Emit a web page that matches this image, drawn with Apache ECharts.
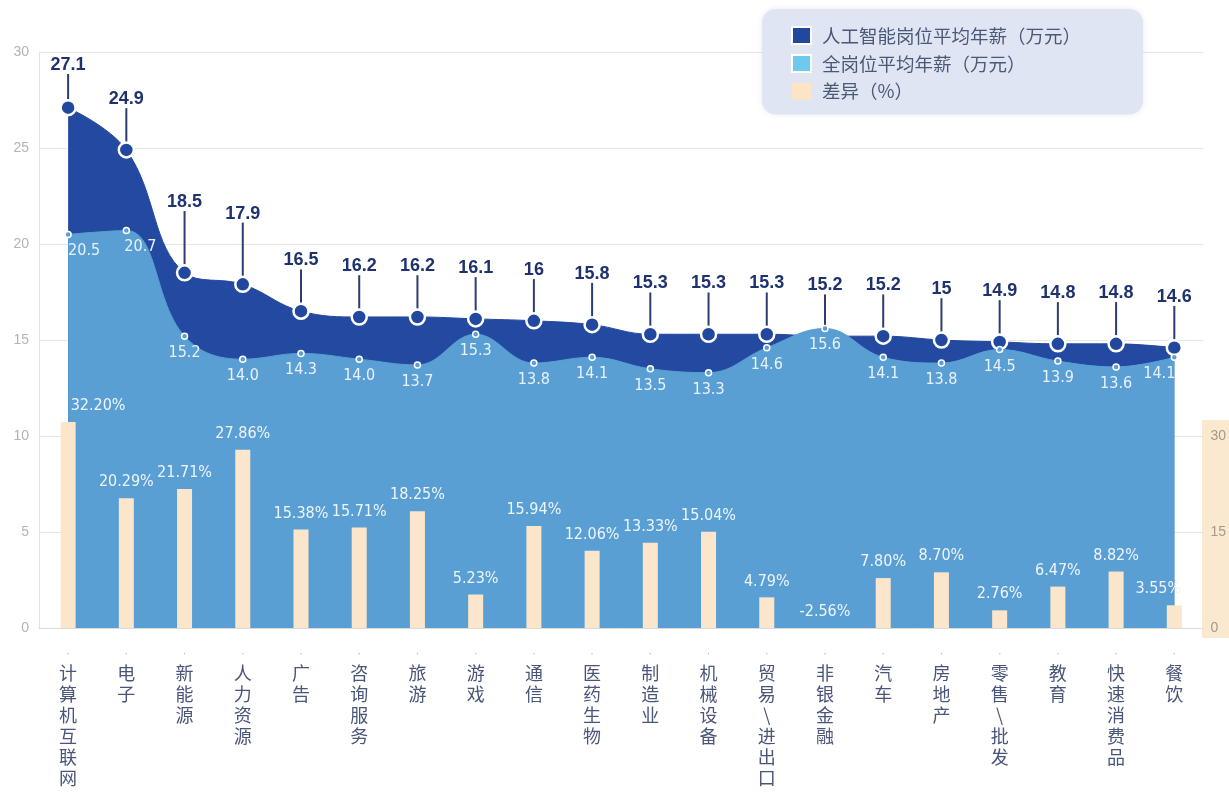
<!DOCTYPE html>
<html>
<head>
<meta charset="utf-8">
<script src="https://cdn.jsdelivr.net/npm/echarts@6/dist/echarts.min.js"></script>
<style>
  html, body { margin: 0; padding: 0; background: #ffffff; }
  #chart { width: 1229px; height: 797px; }
</style>
</head>
<body>
<div id="chart"></div>
<script>
// Industries
const categories = ['计算机互联网', '电子', '新能源', '人力资源', '广告', '咨询服务', '旅游', '游戏', '通信', '医药生物',
  '制造业', '机械设备', '贸易/进出口', '非银金融', '汽车', '房地产', '零售/批发', '教育', '快速消费品', '餐饮'];
// AI positions, average annual salary (10k CNY)
const aiSalary = [27.1, 24.9, 18.5, 17.9, 16.5, 16.2, 16.2, 16.1, 16, 15.8, 15.3, 15.3, 15.3, 15.2, 15.2, 15, 14.9, 14.8, 14.8, 14.6];
// All positions, average annual salary (10k CNY)
const allSalary = [20.5, 20.7, 15.2, 14.0, 14.3, 14.0, 13.7, 15.3, 13.8, 14.1, 13.5, 13.3, 14.6, 15.6, 14.1, 13.8, 14.5, 13.9, 13.6, 14.1];
// Difference (%)
const diffPct = [32.20, 20.29, 21.71, 27.86, 15.38, 15.71, 18.25, 5.23, 15.94, 12.06, 13.33, 15.04, 4.79, -2.56, 7.80, 8.70, 2.76, 6.47, 8.82, 3.55];
// Left axis ticks
const leftTicks = { min: 0, max: 30, interval: 5 };
// Right axis ticks (only 0–30 labelled)
const rightTicks = { min: 0, max: 90, interval: 15, labelledMax: 30 };

const names = ['人工智能岗位平均年薪（万元）', '全岗位平均年薪（万元）', '差异（%）'];
const narrow = "'Liberation Sans Narrow', 'DejaVu Sans Condensed', 'Roboto', sans-serif";
const last = categories.length - 1;

const chart = echarts.init(document.getElementById('chart'));

// Nudge the labels at the two ends of the area so they stay inside it
const allData = allSalary.map((v, i) => {
  if (i === 0) return { value: v, label: { offset: [16, 0] } };
  if (i === 1) return { value: v, label: { offset: [14, 0] } };
  if (i === last) return { value: v, label: { offset: [-15, 0] } };
  return v;
});
const diffData = diffPct.map((v, i) => {
  if (i === 0) return { value: v, label: { offset: [30, 0] } };
  if (i === last) return { value: v, label: { offset: [-16, 0] } };
  return v;
});

// Pin length above each AI-salary point
const pinLift = (idx) => (idx === 0 ? -20 : (idx === 2 || idx === 3) ? -48 : -28);

chart.setOption({
  backgroundColor: '#ffffff',
  animation: false,
  grid: { left: 39, right: 24, top: 52, bottom: 169, containLabel: false },
  graphic: {
    elements: [
      {
        type: 'rect', z: -10, silent: true,
        shape: { x: 1202, y: 420, width: 27, height: 218 },
        style: { fill: '#fbe9cf' }
      }
    ]
  },
  legend: {
    orient: 'vertical',
    left: 762, top: 9,
    padding: [17, 62, 14, 29],
    itemGap: 9,
    itemWidth: 19,
    itemHeight: 17,
    backgroundColor: '#dfe5f3',
    borderRadius: 14,
    shadowBlur: 6,
    shadowColor: 'rgba(40,60,120,0.10)',
    textStyle: {
      color: '#4b5876', fontSize: 18.5, lineHeight: 18,
      fontFamily: "'Noto Sans CJK SC', sans-serif", padding: [0, 0, 0, 6]
    },
    data: [
      { name: names[0], icon: 'rect', itemStyle: { color: '#22479f' } },
      { name: names[1], icon: 'rect', itemStyle: { color: '#6ccaef' } },
      { name: names[2], icon: 'rect', itemStyle: { color: '#fde4c4' } }
    ]
  },
  xAxis: {
    type: 'category',
    data: categories,
    boundaryGap: true,
    axisLine: { show: true, lineStyle: { color: '#dcdcdc', width: 1 } },
    axisTick: { show: false },
    axisLabel: {
      interval: 0,
      margin: 17,
      verticalAlign: 'top',
      formatter: (v) => '{d|·}\n' + Array.from(v).map(c => '{c|' + (c === '/' ? '\\' : c) + '}').join('\n'),
      rich: {
        d: { color: '#b8b8b8', fontSize: 12, lineHeight: 18 },
        c: { color: '#4a5679', fontSize: 18, lineHeight: 21, fontFamily: "'Noto Sans CJK SC', sans-serif" }
      }
    }
  },
  yAxis: [
    {
      type: 'value',
      min: leftTicks.min, max: leftTicks.max, interval: leftTicks.interval,
      axisLine: { show: true, lineStyle: { color: '#e2e2e2' } },
      axisTick: { show: false },
      axisLabel: { color: '#b3b3b3', fontSize: 14, margin: 10 },
      splitLine: { show: true, lineStyle: { color: '#e6e6e6', width: 1 } }
    },
    {
      type: 'value',
      position: 'right',
      min: rightTicks.min, max: rightTicks.max, interval: rightTicks.interval,
      axisLine: { show: false },
      axisTick: { show: false },
      splitLine: { show: false },
      axisLabel: {
        color: '#a09a90', fontSize: 14, margin: 7,
        formatter: (v) => (v <= rightTicks.labelledMax ? String(v) : '')
      }
    }
  ],
  series: [
    {
      name: names[0],
      type: 'line',
      data: aiSalary,
      smooth: 0.4,
      z: 2,
      symbol: 'circle',
      symbolSize: 15,
      itemStyle: { color: '#22479f', borderColor: '#ffffff', borderWidth: 2.5 },
      lineStyle: { color: '#22479f', width: 1 },
      areaStyle: { color: '#2449a0', opacity: 1 },
      label: {
        show: true,
        position: 'top',
        distance: 5,
        color: '#1f3270',
        fontSize: 18,
        fontWeight: 'bold',
        fontFamily: "'Liberation Sans', Arial, sans-serif"
      },
      labelLayout: (p) => ({ dy: pinLift(p.dataIndex) }),
      labelLine: { show: true, lineStyle: { color: '#2b3d6e', width: 2 } }
    },
    {
      name: names[1],
      type: 'line',
      data: allData,
      smooth: 0.4,
      z: 3,
      symbol: 'circle',
      symbolSize: 6,
      itemStyle: { color: '#5a9fd3', borderColor: '#ffffff', borderWidth: 1.5 },
      lineStyle: { color: '#5a9fd3', width: 1 },
      areaStyle: { color: '#5a9fd3', opacity: 1 },
      label: {
        show: true,
        position: 'bottom',
        distance: 5,
        color: '#e9f1fa',
        fontSize: 16,
        fontFamily: narrow,
        formatter: (p) => p.value.toFixed(1)
      }
    },
    {
      name: names[2],
      type: 'bar',
      yAxisIndex: 1,
      data: diffData,
      barWidth: 15,
      z: 4,
      itemStyle: { color: '#fbe6cb' },
      label: {
        show: true,
        position: 'top',
        distance: 8,
        color: '#eef4fb',
        fontSize: 16,
        fontFamily: narrow,
        formatter: (p) => p.value.toFixed(2) + '%'
      }
    }
  ]
});
</script>
</body>
</html>
